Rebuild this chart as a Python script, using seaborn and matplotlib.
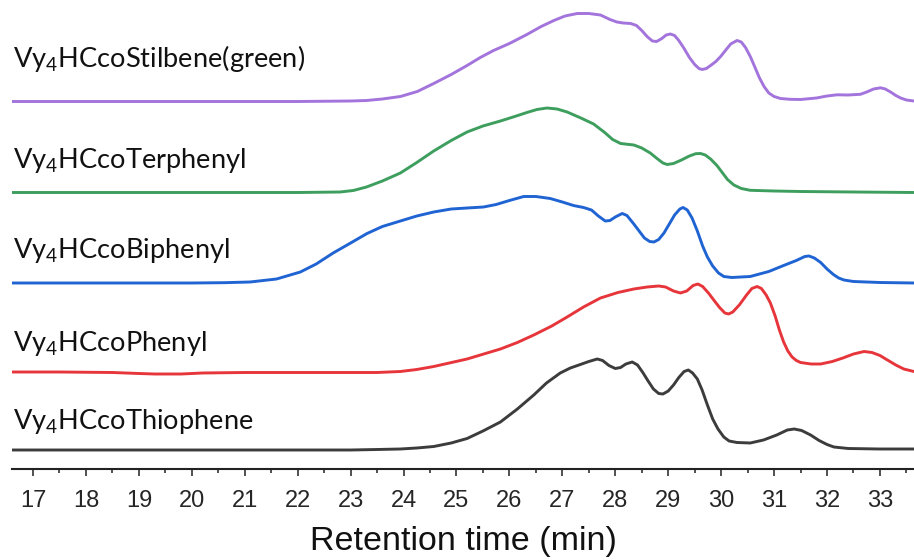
import matplotlib
matplotlib.use("Agg")
import matplotlib.pyplot as plt
import seaborn as sns
import pandas as pd
from matplotlib.ticker import MultipleLocator

# ---------------- data ----------------
names = ["Vy$_\\mathrm{4}$HCcoStilbene(green)", "Vy$_\\mathrm{4}$HCcoTerphenyl",
         "Vy$_\\mathrm{4}$HCcoBiphenyl", "Vy$_\\mathrm{4}$HCcoPhenyl",
         "Vy$_\\mathrm{4}$HCcoThiophene"]
series_keys = ["Stilbene", "Terphenyl", "Biphenyl", "Phenyl", "Thiophene"]

stilbene_t = [16.6, 20.0, 22.0, 23.0, 23.3, 23.6, 23.94, 24.26, 24.57, 24.9, 25.2, 25.45, 25.7, 26.0,
              26.33, 26.6, 26.84, 27.05, 27.28, 27.5, 27.72, 27.9, 28.03, 28.15, 28.29, 28.4, 28.5,
              28.6, 28.7, 28.78, 28.88, 28.96, 29.04, 29.12, 29.2, 29.3, 29.4, 29.5, 29.58, 29.64,
              29.72, 29.8, 29.9, 29.99, 30.08, 30.18, 30.3, 30.38, 30.46, 30.55, 30.64, 30.72, 30.81,
              30.9, 31.0, 31.12, 31.3, 31.5, 31.8, 32.0, 32.19, 32.4, 32.63, 32.75, 32.88, 33.01,
              33.1, 33.2, 33.3, 33.39, 33.5, 33.64]
stilbene_h = [0, 0, 0, 0.5, 1, 2.5, 5, 10, 18, 27, 36, 44, 51, 58,
              67, 75, 81, 85.5, 88, 88, 86.5, 82, 79.5, 78.5, 78, 76, 71,
              65, 60.5, 60, 63, 66.5, 67.5, 66, 61, 53, 44, 37, 33, 32,
              33, 36, 40, 45, 51, 57.5, 61, 59.5, 54, 45, 34, 24, 15,
              8.5, 5, 3, 2.2, 2, 3.5, 5.5, 6.7, 6.5, 7.2, 9.5, 12.5, 13.7,
              12.5, 9.5, 6, 3.5, 1.5, 0.5]

terphenyl_t = [16.6, 20.0, 22.0, 22.8, 23.05, 23.3, 23.6, 23.94, 24.25, 24.57, 24.9, 25.2, 25.5, 25.83,
               26.1, 26.33, 26.52, 26.71, 26.9, 27.09, 27.35, 27.59, 27.8, 27.95, 28.1, 28.35, 28.5,
               28.66, 28.8, 28.9, 28.98, 29.1, 29.25, 29.4, 29.52, 29.61, 29.7, 29.8, 29.92, 30.02,
               30.12, 30.24, 30.38, 30.55, 31.0, 31.5, 32.5, 33.64]
terphenyl_h = [0, 0, 0, 0.5, 2, 5.5, 11.5, 19.5, 30, 41.5, 52, 60.5, 66.5, 71.5,
               76, 80, 83, 84.5, 83.5, 80.5, 74.5, 68.5, 60, 53, 49, 47.5, 44.5,
               39.5, 33.5, 29.5, 28, 29, 32.5, 36.5, 38.8, 39, 37.5, 33.5, 27, 20,
               13, 7.5, 4, 2.2, 1.5, 1, 0.5, 0]

biphenyl_t = [16.6, 20.0, 20.6, 21.1, 21.6, 22.05, 22.35, 22.67, 23.0, 23.31, 23.6, 23.94, 24.25, 24.57,
              24.9, 25.2, 25.51, 25.75, 26.0, 26.27, 26.5, 26.77, 27.0, 27.21, 27.4, 27.55, 27.68,
              27.81, 27.9, 28.0, 28.13, 28.22, 28.35, 28.45, 28.55, 28.65, 28.73, 28.82, 28.92,
              29.02, 29.12, 29.22, 29.28, 29.36, 29.45, 29.55, 29.65, 29.74, 29.84, 29.95, 30.05,
              30.2, 30.55, 30.9, 31.18, 31.42, 31.58, 31.66, 31.76, 31.88, 32.0, 32.12, 32.22,
              32.32, 32.5, 33.0, 33.64]
biphenyl_h = [0, 0, 0.3, 1, 4, 11, 19, 30, 40, 49.5, 56.5, 62, 67, 71,
              74, 75, 76, 78.5, 82.5, 86.5, 86.5, 84.5, 81, 77.5, 75.5, 73, 67,
              62, 62.5, 66, 69.5, 67.5, 59, 52, 45, 41.5, 41, 43.5, 50,
              59, 68, 74, 75.5, 73, 65, 52, 37, 26, 17, 10, 6.5,
              5.5, 6.5, 11.5, 17.5, 22.5, 26.5, 27, 25, 20.5, 14, 8.5, 5,
              3, 1.5, 0.5, 0]

phenyl_t = [16.6, 17.5, 18.5, 19.0, 19.3, 19.8, 20.2, 21.0, 22.0, 23.0, 23.5, 23.94, 24.25, 24.57,
            25.2, 25.83, 26.15, 26.46, 26.8, 27.09, 27.4, 27.72, 28.05, 28.35, 28.6, 28.82, 28.95,
            29.1, 29.23, 29.35, 29.47, 29.56, 29.65, 29.76, 29.86, 29.97, 30.07, 30.14, 30.22,
            30.35, 30.48, 30.58, 30.68, 30.76, 30.85, 30.93, 31.02, 31.1, 31.18, 31.26, 31.34,
            31.42, 31.5, 31.7, 31.88, 32.1, 32.3, 32.5, 32.7, 32.85, 33.0, 33.14, 33.3, 33.45, 33.64]
phenyl_h = [1, 1, 0.5, -0.5, -1, -1, 0, 0.5, 0.5, 0.5, 0.5, 1.5, 3.5, 6.5,
            14, 24, 30.5, 38, 47, 56, 66, 75, 80.5, 84, 86, 87, 86,
            82, 80, 82, 87.5, 89, 86.5, 80, 73, 65.5, 60, 59, 61,
            68.5, 78, 84.5, 86.5, 84.5, 78, 70, 57, 43, 31, 22, 16,
            12.5, 10.5, 9, 9, 11.5, 15, 19, 21.5, 20.5, 17.5, 13, 8, 4, 1.5]

thiophene_t = [16.6, 20.0, 23.0, 23.5, 23.94, 24.25, 24.57, 24.9, 25.2, 25.5, 25.83, 26.15, 26.46,
               26.7, 26.96, 27.15, 27.34, 27.5, 27.66, 27.76, 27.88, 28.0, 28.1, 28.2, 28.32, 28.42,
               28.52, 28.62, 28.72, 28.82, 28.9, 29.0, 29.1, 29.2, 29.3, 29.38, 29.46, 29.55, 29.64,
               29.74, 29.84, 29.94, 30.05, 30.15, 30.3, 30.55, 30.8, 31.05, 31.25, 31.38, 31.52,
               31.69, 31.85, 32.0, 32.13, 32.4, 33.0, 33.64]
thiophene_h = [0, 0, 0, 0.5, 1, 2, 3.5, 7, 11.5, 19, 28, 41, 55,
               67, 77, 82, 85.5, 88.5, 91, 89.5, 84.5, 81.5, 82.5, 86, 88, 85,
               77.5, 69, 61, 56.5, 56, 59, 65, 72.5, 78.5, 80, 77, 71, 60,
               45, 31, 21, 13, 9, 7.5, 7, 10, 15, 20, 21, 19.5,
               15, 9.5, 5.5, 3, 1.5, 1, 1]

x_ticks = list(range(17, 34))
x_label = "Retention time (min)"

# ---------------- layout / style ----------------
offsets = [367.5, 276.5, 186, 96, 19]          # vertical stacking of traces
colors = ["#a374dc", "#3d9e5e", "#1f64d2", "#e6363b", "#3c3c3c"]
label_baselines_px = [67, 168, 258, 351, 429]

all_t = [stilbene_t, terphenyl_t, biphenyl_t, phenyl_t, thiophene_t]
all_h = [stilbene_h, terphenyl_h, biphenyl_h, phenyl_h, thiophene_h]

rows = []
for key, ts, hs, off in zip(series_keys, all_t, all_h, offsets):
    for t, h in zip(ts, hs):
        rows.append({"t": t, "y": h + off, "series": key})
df = pd.DataFrame(rows)

sns.set_style("white")
plt.rcParams["font.family"] = ["Liberation Sans", "DejaVu Sans"]
plt.rcParams["mathtext.fontset"] = "custom"
plt.rcParams["mathtext.rm"] = "Lato"

W, H = 914, 560
fig = plt.figure(figsize=(W / 100, H / 100), dpi=100)
ax = fig.add_axes([12 / W, (H - 469) / H, 1 - 12 / W, 469 / H])

sns.lineplot(data=df, x="t", y="y", hue="series", palette=dict(zip(series_keys, colors)),
             sort=False, estimator=None, legend=False, linewidth=2.1, ax=ax)
for line in ax.lines:
    line.set_solid_joinstyle("round")
    line.set_solid_capstyle("round")

ax.set_xlim(16.603, 33.643)
ax.set_ylim(0, 469)
ax.set_xticks(x_ticks)
ax.xaxis.set_minor_locator(MultipleLocator(0.5))
ax.set_yticks([])
for s in ["left", "top", "right"]:
    ax.spines[s].set_visible(False)
ax.spines["bottom"].set_linewidth(1.5)
ax.spines["bottom"].set_color("#222222")
ax.tick_params(axis="x", which="major", direction="out", length=5, width=1.1,
               color="#222222", labelsize=17, pad=10, bottom=True)
ax.tick_params(axis="x", which="minor", direction="out", length=3, width=1.1,
               color="#222222", bottom=True)
ax.set_xlabel(x_label, fontsize=24.5, labelpad=10, color="#111111")
ax.set_ylabel("")

for name, yb in zip(names, label_baselines_px):
    fig.text(13 / W, 1 - yb / H, name, fontsize=19.6, family="Lato", va="baseline",
             ha="left", color="#111111")

fig.savefig("out.png", dpi=100)
